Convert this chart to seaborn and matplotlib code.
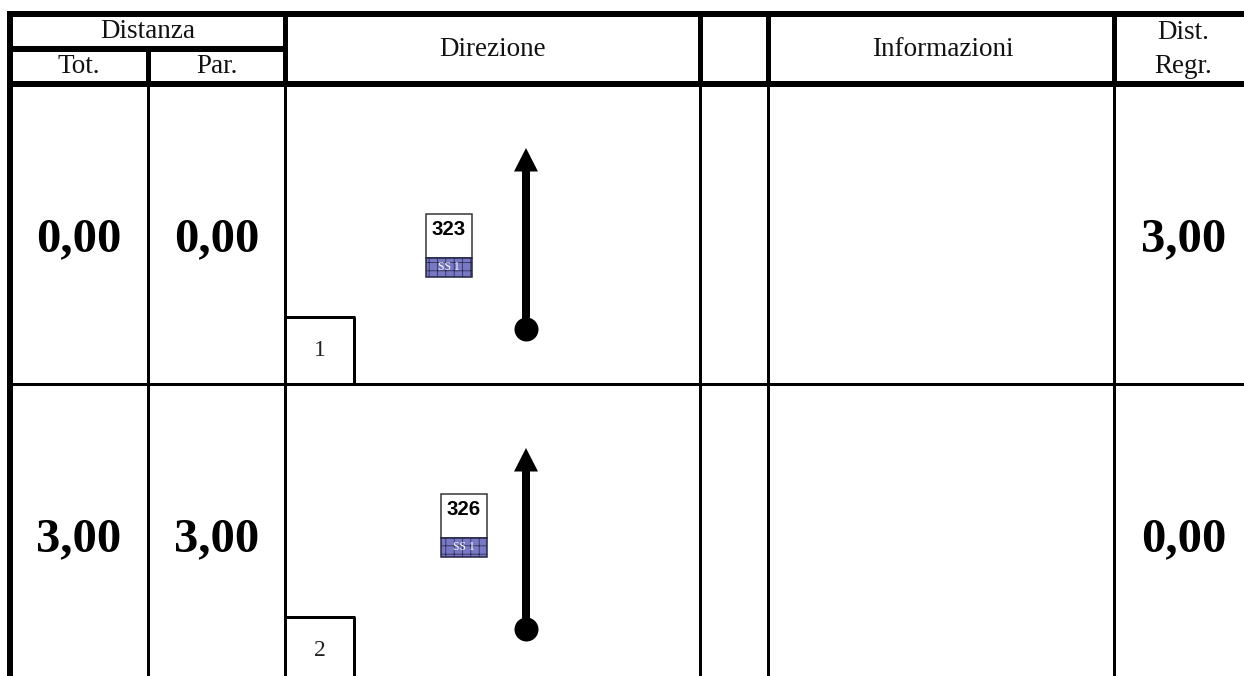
#!/usr/bin/env python3
'''
Road book table: two rows of distances, road badges and direction arrows
'''
import matplotlib
matplotlib.use('Agg')
import matplotlib.pyplot as plt
from matplotlib.patches import Polygon, Rectangle
import pandas as pd
import seaborn as sns

# table content
steps = ["1", "2"]
dist_tot = ["0,00", "3,00"]
dist_par = ["0,00", "3,00"]
dist_regr = ["3,00", "0,00"]
road_numbers = ["323", "326"]
road_names = ["SS 1", "SS 1"]

# layout, in pixels of the picture
W = 1244; H = 676
row_tops = [84, 384]
row_h = 300
col_x = [148, 285, 700, 768, 1114]
badge_x = [426, 441]
badge_y = [214, 494]
arrow_x = 526

sns.set_theme(style="white")
plt.rcParams['font.family'] = ['Liberation Serif', 'DejaVu Serif']
plt.rcParams['hatch.color'] = '#2a2a9a'
plt.rcParams['hatch.linewidth'] = 0.5

fig = plt.figure(figsize=(W/100, H/100), dpi=100)
ax = fig.add_axes([0, 0, 1, 1])

def px(n):
    return n*72/100

def rule(x0, y0, x1, y1, w):
    ax.plot([x0, x1], [y0, y1], color='black', lw=px(w), solid_capstyle='butt', zorder=2)

# arrow tails
dots = pd.DataFrame({'x': [arrow_x-0.5]*len(steps), 'y': [top+245 for top in row_tops]})
sns.scatterplot(data=dots, x='x', y='y', ax=ax, s=px(24)**2, color='black', linewidth=0, zorder=4, legend=False)
ax.set_xlim(0, W); ax.set_ylim(H, 0); ax.axis('off')

# frame and header rules
rule(7, 14, W, 14, 6)
rule(10, 11, 10, H, 6)
rule(7, 49, 285, 49, 6)
rule(7, 84, W, 84, 6)
rule(148, 49, 148, 84, 5)
for x in col_x[1:]:
    rule(x, 14, x, 84, 5)
for x in col_x:
    rule(x, 84, x, H, 3)

# header text
for x, y, label in [(148, 38, "Distanza"), (79, 73, "Tot."), (216.5, 73, "Par."), (493, 56, "Direzione"),
                    (943, 56, "Informazioni"), (1183, 39, "Dist."), (1183.5, 73, "Regr.")]:
    ax.text(x, y, label, ha='center', va='baseline', fontsize=19.5, color='#111111')

# rows
for i, top in enumerate(row_tops):
    rule(10, top+row_h, W, top+row_h, 3)
    # distances
    base = top+167
    ax.text(79, base, dist_tot[i], ha='center', va='baseline', fontsize=35, fontweight='bold', color='black')
    ax.text(217, base, dist_par[i], ha='center', va='baseline', fontsize=35, fontweight='bold', color='black')
    ax.text(1184, base, dist_regr[i], ha='center', va='baseline', fontsize=35, fontweight='bold', color='black')
    # step number box
    rule(285, top+233, 355, top+233, 3)
    rule(353.5, top+233, 353.5, top+row_h, 3)
    ax.text(320, top+272.5, steps[i], ha='center', va='baseline', fontsize=17, color='#222222')
    # direction arrow
    rule(arrow_x, top+245, arrow_x, top+85, 8)
    ax.add_patch(Polygon([[arrow_x, top+64], [arrow_x-12, top+87.5], [arrow_x+12, top+87.5]], closed=True, fc='black', ec='none', zorder=3))
    # road badge
    bx = badge_x[i]; by = badge_y[i]
    ax.add_patch(Rectangle((bx, by), 46, 44, fc='white', ec='#333333', lw=px(1.5), zorder=3))
    ax.add_patch(Rectangle((bx, by+44), 46, 19, fc='#7878c4', ec='#222244', lw=px(1.5), hatch='++', zorder=3))
    ax.text(bx+23, by+21, road_numbers[i], ha='center', va='baseline', fontsize=14.7, fontweight='bold',
            family='Liberation Sans', color='black', zorder=5)
    ax.text(bx+23, by+56.5, road_names[i], ha='center', va='baseline', fontsize=8.4, color='white', zorder=5)

fig.savefig('out.png', dpi=100)
